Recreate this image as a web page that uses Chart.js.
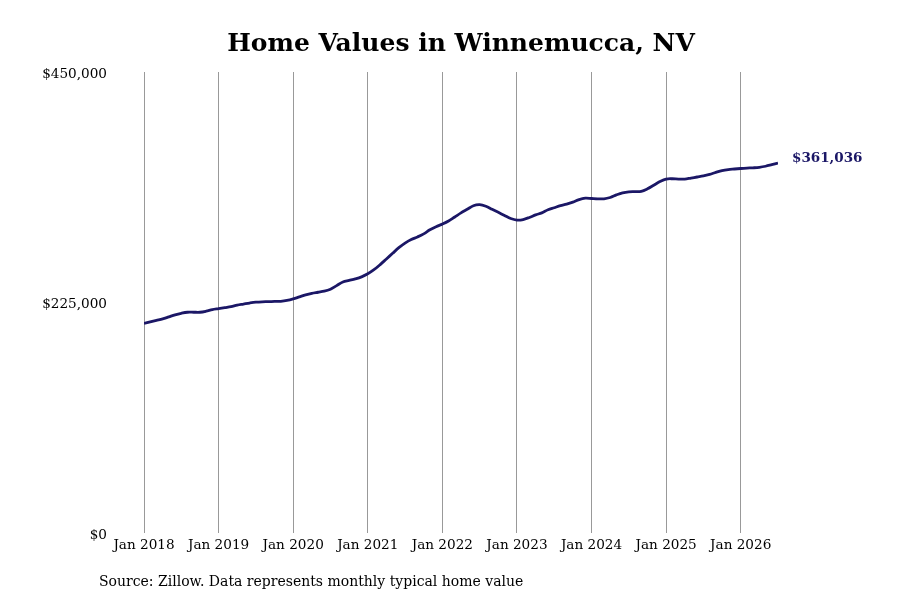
<!DOCTYPE html>
<html>
<head>
<meta charset="utf-8">
<script src="https://cdn.jsdelivr.net/npm/chart.js@4"></script>
<style>
  html, body { margin: 0; padding: 0; background: #fff; }
  #wrap { width: 900px; height: 600px; }
</style>
</head>
<body>
<div id="wrap"><canvas id="chart" width="900" height="600"></canvas></div>
<script>
const title = 'Home Values in Winnemucca, NV';
const source = 'Source: Zillow. Data represents monthly typical home value';
const tickLabels = ['Jan 2018', 'Jan 2019', 'Jan 2020', 'Jan 2021', 'Jan 2022', 'Jan 2023', 'Jan 2024', 'Jan 2025', 'Jan 2026'];
const yTicks = [0, 225000, 450000];

// monthly typical home value, Jan 2018 .. Jul 2026 (in $k)
const values2018 = [204.5, 206, 207.5, 209, 211, 213, 214.5, 215.5, 215.5, 215.5, 216.5, 218];
const values2019 = [219, 220, 221, 222.5, 223.5, 224.5, 225.3, 225.7, 225.8, 226, 226.2, 227];
const values2020 = [228.5, 230.5, 232.5, 234, 235, 236, 238, 241.5, 245, 246.5, 248, 250];
const values2021 = [253, 257, 262, 267.5, 273, 278.5, 283, 286.5, 289, 292, 296, 299];
const values2022 = [301.5, 304.5, 308.5, 312.5, 316, 319.5, 320.5, 319, 316, 313, 310, 307];
const values2023 = [305.5, 306, 308, 310.5, 312.5, 315.5, 317.5, 319.5, 321, 323, 325.5, 326.8];
const values2024 = [326.5, 326.2, 326.2, 327.5, 330, 332, 333, 333.2, 333.5, 336, 339.5, 343];
const values2025 = [345.5, 345.8, 345.5, 345.5, 346.5, 347.5, 348.5, 350, 352, 353.8, 354.8, 355.3];
const values2026 = [355.8, 356.2, 356.5, 357, 358, 359.5, 361.036];

const values = [].concat(values2018, values2019, values2020, values2021, values2022,
                         values2023, values2024, values2025, values2026).map(v => v * 1000);
const points = values.map((v, i) => ({ x: i, y: v }));

const lineColor = '#1b1766';
const serif = '"DejaVu Serif", serif';

const fmt = v => '$' + Math.round(v).toLocaleString('en-US');

const extras = {
  id: 'extras',
  afterDraw(chart) {
    const ctx = chart.ctx;
    ctx.save();
    ctx.fillStyle = '#000';
    ctx.textBaseline = 'middle';
    ctx.textAlign = 'center';
    ctx.font = 'bold 25px ' + serif;
    ctx.fillText(title, 461, 44);
    ctx.textAlign = 'left';
    ctx.font = '14px ' + serif;
    ctx.fillText(source, 99, 582);
    // end value label
    const meta = chart.getDatasetMeta(0);
    const last = meta.data[meta.data.length - 1];
    ctx.fillStyle = lineColor;
    ctx.font = 'bold 13.5px ' + serif;
    ctx.fillText(fmt(values[values.length - 1]), last.x + 14, last.y - 5);
    ctx.restore();
  }
};

new Chart(document.getElementById('chart'), {
  type: 'line',
  data: {
    datasets: [{
      data: points,
      borderColor: lineColor,
      borderWidth: 2.8,
      pointRadius: 0,
      tension: 0.35,
      fill: false
    }]
  },
  options: {
    responsive: false,
    animation: false,
    layout: { padding: { top: 72, left: 10, right: 122, bottom: 47 } },
    plugins: {
      legend: { display: false },
      tooltip: { enabled: false },
      title: { display: false }
    },
    scales: {
      x: {
        type: 'linear',
        min: 0,
        max: values.length - 1,
        afterBuildTicks: axis => { axis.ticks = tickLabels.map((t, i) => ({ value: i * 12 })); },
        afterFit: axis => { axis.height = 20; },
        grid: { color: '#999', lineWidth: 1, drawTicks: false },
        border: { display: false },
        ticks: {
          padding: 4,
          autoSkip: false,
          maxRotation: 0,
          color: '#000',
          font: { family: serif, size: 13.6 },
          callback: v => tickLabels[v / 12]
        }
      },
      y: {
        min: 0,
        max: 450000,
        afterBuildTicks: axis => { axis.ticks = yTicks.map(v => ({ value: v })); },
        afterFit: axis => { axis.width = 134; },
        grid: { display: false },
        border: { display: false },
        ticks: {
          padding: 29,
          labelOffset: 2,
          color: '#000',
          font: { family: serif, size: 13.6 },
          callback: v => fmt(v)
        }
      }
    }
  },
  plugins: [extras]
});
</script>
</body>
</html>
